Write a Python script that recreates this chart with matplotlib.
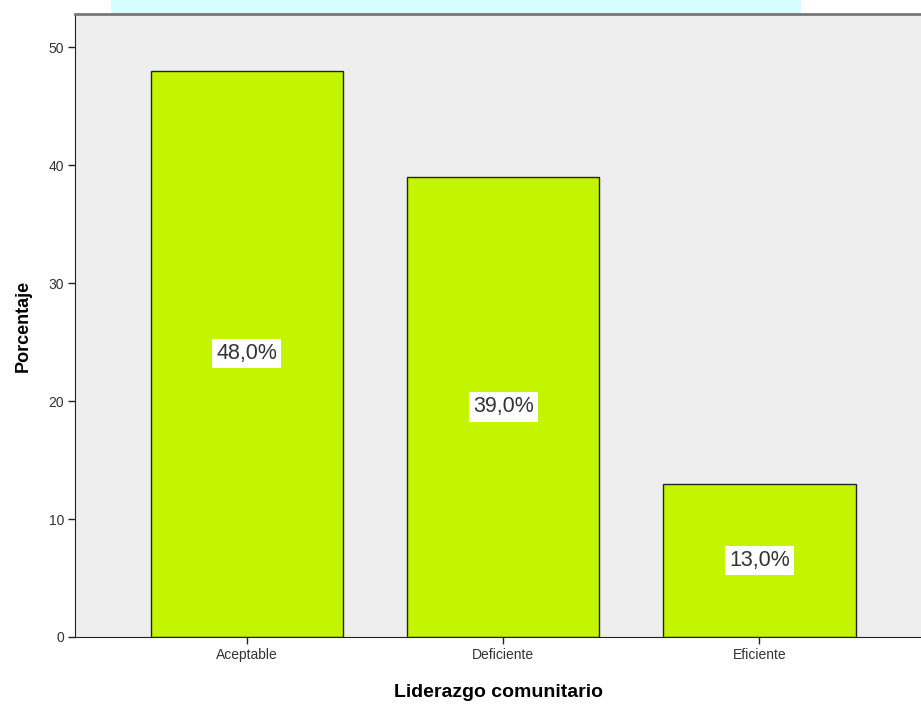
import matplotlib
matplotlib.use("Agg")
import matplotlib.pyplot as plt
from matplotlib.patches import Rectangle

categories = ["Aceptable", "Deficiente", "Eficiente"]
percentages = [48.0, 39.0, 13.0]
yticks = [0, 10, 20, 30, 40, 50]

plt.rcParams['font.family'] = ['Liberation Sans', 'DejaVu Sans']

fig = plt.figure(figsize=(9.21, 7.06), dpi=100)
fig.patch.set_facecolor("white")

# light band across the top of the page
fig.patches.append(Rectangle((0.12, 0.981), 0.75, 0.019, transform=fig.transFigure,
                             facecolor="#d6fdff", edgecolor="none", zorder=0))

ax = fig.add_axes([75/921, 69/706, 1 - 75/921, (637-14)/706])
ax.set_facecolor("#eeeeee")

x = range(len(categories))
bars = ax.bar(x, percentages, width=0.75, color="#c4f500", edgecolor="#222222",
              linewidth=1.0, zorder=2)

for xi, v in zip(x, percentages):
    ax.text(xi, v / 2, f"{v:.1f}%".replace(".", ","), ha="center", va="center",
            fontsize=15.5, color="#333333", zorder=3,
            bbox=dict(facecolor="white", edgecolor="none", pad=3))

ax.set_xlim(-0.67, 2.63)
ax.set_ylim(0, 52.8)
ax.set_xticks(list(x))
ax.set_xticklabels(categories, fontsize=10, color="#333333")
ax.set_yticks(yticks)
ax.set_yticklabels([str(t) for t in yticks], fontsize=10, color="#333333")
ax.tick_params(axis="both", length=5, width=1, color="#222222", pad=3)

ax.spines["left"].set_color("#222222")
ax.spines["bottom"].set_color("#222222")
ax.spines["top"].set_color("#777777")
ax.spines["top"].set_linewidth(2)
ax.spines["right"].set_visible(False)

ax.set_xlabel("Liderazgo comunitario", fontsize=14, fontweight="bold", labelpad=16)
ax.set_ylabel("Porcentaje", fontsize=13, fontweight="bold", labelpad=12)

fig.savefig("out.png", dpi=100)
